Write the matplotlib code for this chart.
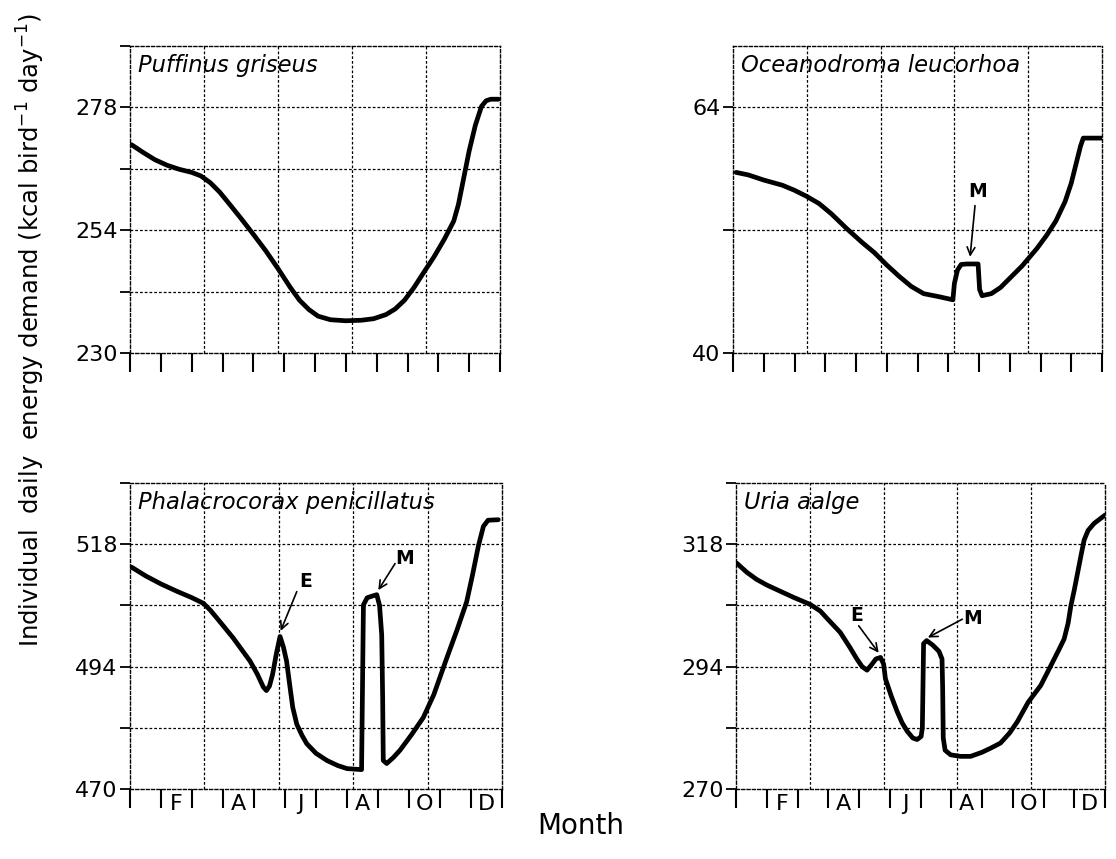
import matplotlib
matplotlib.use("Agg")
import matplotlib.pyplot as plt
import numpy as np

plt.rcParams['font.family'] = ['DejaVu Sans']

# ---- data (x in months from 1 Jan, y in kcal bird-1 day-1) ----
m1 = [0.05, 0.4, 0.8, 1.2, 1.6, 2.0, 2.3, 2.6, 2.9, 3.2, 3.6, 4.0, 4.4, 4.8, 5.2, 5.5, 5.8,
      6.1, 6.5, 7.0, 7.5, 7.9, 8.3, 8.6, 8.9, 9.2, 9.5, 9.85, 10.2, 10.5, 10.65, 10.8, 11.0,
      11.2, 11.4, 11.55, 11.7, 11.95]
v1 = [270.7, 269.3, 267.8, 266.7, 265.9, 265.3, 264.6, 263.3, 261.5, 259.3, 256.3, 253.2,
      250.0, 246.5, 242.8, 240.3, 238.5, 237.2, 236.5, 236.3, 236.4, 236.7, 237.5, 238.6,
      240.3, 242.7, 245.5, 248.7, 252.3, 255.8, 259.0, 263.5, 269.5, 274.5, 278.2, 279.3,
      279.6, 279.6]

m2 = [0.1, 0.5, 1.0, 1.6, 2.0, 2.4, 2.8, 3.2, 3.7, 4.2, 4.6, 5.0, 5.4, 5.8, 6.2, 6.7, 7.15,
      7.2, 7.3, 7.42, 7.6, 7.97, 8.02, 8.1, 8.4, 8.7, 9.0, 9.4, 9.88, 10.2, 10.5, 10.8, 11.0,
      11.15, 11.3, 11.39, 11.99]
v2 = [57.65, 57.4, 56.9, 56.4, 55.9, 55.3, 54.6, 53.6, 52.15, 50.8, 49.8, 48.6, 47.5, 46.5,
      45.8, 45.5, 45.2, 46.8, 48.1, 48.65, 48.7, 48.7, 46.2, 45.6, 45.8, 46.4, 47.3, 48.5,
      50.2, 51.5, 52.9, 54.8, 56.6, 58.4, 60.2, 61.0, 61.0]

m3 = [0.05, 0.5, 1.0, 1.5, 2.0, 2.37, 2.6, 2.9, 3.33, 3.87, 4.1, 4.3, 4.4, 4.5, 4.6, 4.72,
      4.84, 4.95, 5.05, 5.15, 5.25, 5.38, 5.55, 5.7, 6.0, 6.35, 6.7, 7.0, 7.47, 7.5, 7.53,
      7.65, 7.8, 7.96, 8.05, 8.12, 8.15, 8.17, 8.28, 8.5, 8.71, 9.1, 9.46, 9.8, 10.22, 10.55,
      10.86, 11.05, 11.24, 11.4, 11.55, 11.88]
v3 = [513.5, 511.8, 510.2, 508.8, 507.5, 506.4, 505.0, 502.8, 499.6, 495.1, 492.6, 490.0,
      489.3, 490.2, 492.5, 496.5, 499.9, 497.8, 495.1, 490.5, 486.0, 482.7, 480.5, 478.9,
      477.0, 475.6, 474.6, 474.0, 473.8, 490.0, 506.1, 507.5, 507.8, 508.1, 506.0, 500.2,
      488.0, 475.6, 475.0, 476.2, 477.6, 480.8, 484.0, 488.5, 495.7, 501.2, 506.7, 512.0,
      517.7, 521.5, 522.7, 522.8]

m4 = [0.02, 0.35, 0.67, 1.0, 1.43, 1.9, 2.41, 2.74, 3.0, 3.39, 3.7, 3.93, 4.1, 4.26, 4.4,
      4.55, 4.7, 4.8, 4.86, 5.05, 5.24, 5.4, 5.57, 5.75, 5.89, 6.02, 6.06, 6.08, 6.1, 6.2,
      6.4, 6.6, 6.7, 6.72, 6.74, 6.8, 6.98, 7.3, 7.63, 8.0, 8.28, 8.6, 8.9, 9.15, 9.5, 9.91,
      10.24, 10.5, 10.67, 10.8, 10.89, 11.0, 11.11, 11.22, 11.32, 11.45, 11.65, 12.0]
v4 = [314.3, 312.5, 311.1, 310.0, 308.8, 307.5, 306.2, 304.9, 303.2, 300.7, 297.8, 295.5,
      294.0, 293.3, 294.3, 295.5, 295.8, 294.5, 291.6, 288.2, 285.2, 283.0, 281.3, 280.0,
      279.7, 280.3, 282.0, 290.0, 298.5, 299.1, 298.2, 297.0, 295.5, 290.0, 280.0, 277.6,
      276.7, 276.4, 276.4, 277.2, 278.0, 279.0, 281.0, 283.2, 287.0, 290.3, 294.2, 297.3,
      299.4, 302.5, 305.9, 309.0, 312.4, 315.8, 318.8, 320.7, 322.1, 323.7]

species = ["Puffinus griseus", "Oceanodroma leucorhoa",
           "Phalacrocorax penicillatus", "Uria aalge"]
ylims = [(230, 290), (40, 70), (470, 530), (270, 330)]
month_labels = ["F", "A", "J", "A", "O", "D"]
month_label_pos = [1.5, 3.5, 5.5, 7.5, 9.5, 11.5]

# annotations: (text, text_xy, arrow_start, arrow_end)
ann = {
    1: [("M", (7.97, 55.8), (7.87, 54.4), (7.71, 49.4))],
    2: [("E", (5.65, 510.6), (5.38, 508.7), (4.86, 501.0)),
        ("M", (8.87, 515.1), (8.55, 514.2), (8.01, 509.0))],
    3: [("E", (3.91, 304.1), (3.99, 302.0), (4.64, 296.7)),
        ("M", (7.68, 303.4), (7.36, 303.3), (6.24, 299.7))],
}

fig = plt.figure(figsize=(11.16, 8.59), dpi=100)
rects = [
    (130 / 1116, 1 - 353 / 859, 370 / 1116, 307 / 859),
    (733 / 1116, 1 - 353 / 859, 369 / 1116, 307 / 859),
    (130 / 1116, 1 - 789 / 859, 372 / 1116, 306 / 859),
    (736 / 1116, 1 - 789 / 859, 369 / 1116, 306 / 859),
]
data = [(m1, v1), (m2, v2), (m3, v3), (m4, v4)]
dot = (0, (2.2, 1.6))

for i, (rect, (mx, vy)) in enumerate(zip(rects, data)):
    ax = fig.add_axes(rect)
    lo, hi = ylims[i]
    ax.set_xlim(0, 12)
    ax.set_ylim(lo, hi)
    ax.plot(mx, vy, color="black", lw=3.4, solid_capstyle="round",
            solid_joinstyle="round", zorder=3)
    # grid
    for gx in [2.4, 4.8, 7.2, 9.6]:
        ax.axvline(gx, color="black", lw=0.9, ls=dot, zorder=1)
    for gy in np.arange(lo + 12, hi, 12):
        ax.axhline(gy, color="black", lw=0.9, ls=dot, zorder=1)
    for s in ax.spines.values():
        s.set_linestyle(dot)
        s.set_linewidth(1.0)
    # y ticks
    yt = np.arange(lo, hi + 1, 12)
    ax.set_yticks(yt)
    ax.set_yticklabels([str(int(t)) if (t - lo) % 24 == 0 and t != hi else "" for t in yt])
    ax.tick_params(axis="y", direction="out", length=7, width=1.3, labelsize=16, pad=2)
    # x ticks (month boundaries)
    ax.set_xticks(np.arange(0, 13, 1))
    ax.set_xticklabels([])
    ax.tick_params(axis="x", direction="out", length=14, width=1.5)
    if i >= 2:
        for xp, lab in zip(month_label_pos, month_labels):
            ax.text(xp, -0.015, lab, transform=ax.get_xaxis_transform(), ha="center", va="top",
                    fontsize=16)
    ax.text(0.022, 0.937, species[i], transform=ax.transAxes, ha="left", va="center",
            fontsize=16.3, style="italic")
    for (t, txy, a0, a1) in ann.get(i, []):
        ax.text(txy[0], txy[1], t, ha="center", va="center", fontsize=13.5, fontweight="bold")
        ax.annotate("", xy=a1, xytext=a0,
                    arrowprops=dict(arrowstyle="->", color="black", lw=1.2,
                                    shrinkA=0, shrinkB=0, mutation_scale=14))

fig.text(0.028, 0.616, "Individual  daily  energy demand (kcal bird$^{-1}$ day$^{-1}$)",
         rotation=90, ha="center", va="center", fontsize=17.5)
fig.text(0.52, 0.038, "Month", ha="center", va="center", fontsize=20)

fig.savefig("out.png", dpi=100)
